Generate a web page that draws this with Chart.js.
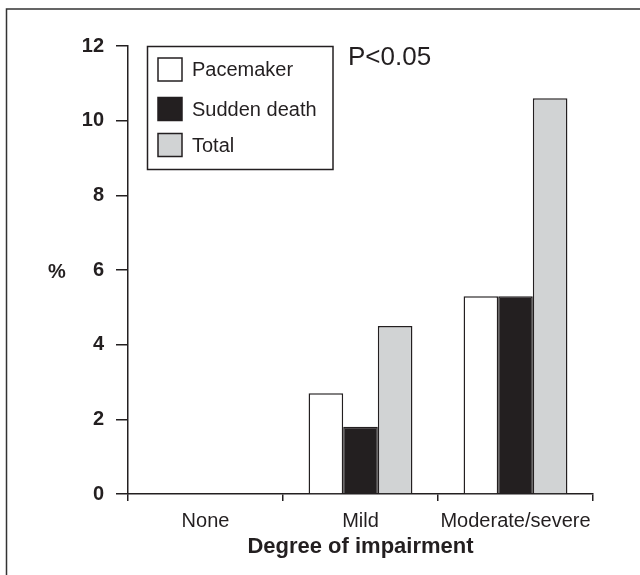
<!DOCTYPE html>
<html>
<head>
<meta charset="utf-8">
<script src="https://cdn.jsdelivr.net/npm/chart.js@4/dist/chart.umd.min.js"></script>
<style>
  html, body { margin: 0; padding: 0; background: #fff; }
  #wrap { width: 640px; height: 575px; position: relative; }
</style>
</head>
<body>
<div id="wrap"><canvas id="c" width="640" height="575"></canvas></div>
<script>
const categories = ['None', 'Mild', 'Moderate/severe'];
const seriesNames = ['Pacemaker', 'Sudden death', 'Total'];
const pacemaker = [0, 2.7, 5.3];
const suddenDeath = [0, 1.8, 5.3];
const total = [0, 4.5, 10.6];
const yTicks = [0, 2, 4, 6, 8, 10, 12];
const xTitle = 'Degree of impairment';
const yTitle = '%';
const note = 'P<0.05';

const INK = '#231f20';
const FONT = '"Liberation Sans", Arial, Helvetica, sans-serif';

const overlay = {
  id: 'overlay',
  afterDraw(chart) {
    const ctx = chart.ctx;
    ctx.save();
    // outer frame (top and left visible)
    ctx.strokeStyle = '#333';
    ctx.lineWidth = 1.5;
    ctx.beginPath();
    ctx.moveTo(6.5, 580);
    ctx.lineTo(6.5, 9);
    ctx.lineTo(645, 9);
    ctx.stroke();

    // y title, horizontal
    ctx.fillStyle = INK;
    ctx.font = 'bold 20px ' + FONT;
    ctx.textAlign = 'center';
    ctx.textBaseline = 'middle';
    ctx.fillText(yTitle, 57, 272);

    // note
    ctx.font = '26px ' + FONT;
    ctx.textAlign = 'left';
    ctx.fillText(note, 348, 58);

    // legend
    ctx.lineWidth = 1.5;
    ctx.strokeStyle = INK;
    ctx.fillStyle = '#fff';
    ctx.fillRect(147.5, 46.5, 185.5, 123);
    ctx.strokeRect(147.5, 46.5, 185.5, 123);
    const rows = [69.5, 109, 145];
    chart.data.datasets.forEach((ds, i) => {
      const cy = rows[i];
      ctx.fillStyle = ds.backgroundColor;
      ctx.fillRect(158, cy - 11.5, 24, 23);
      ctx.strokeStyle = ds.borderColor;
      ctx.lineWidth = 1.5;
      ctx.strokeRect(158, cy - 11.5, 24, 23);
      ctx.fillStyle = INK;
      ctx.font = '20px ' + FONT;
      ctx.textAlign = 'left';
      ctx.textBaseline = 'middle';
      ctx.fillText(ds.label, 192, cy + 1);
    });
    ctx.restore();
  }
};

new Chart(document.getElementById('c'), {
  type: 'bar',
  data: {
    labels: categories,
    datasets: [
      { label: seriesNames[0], data: pacemaker, backgroundColor: '#ffffff', borderColor: INK, borderWidth: 1.5 },
      { label: seriesNames[1], data: suddenDeath, backgroundColor: INK, borderColor: INK, borderWidth: 1.5 },
      { label: seriesNames[2], data: total, backgroundColor: '#d1d3d4', borderColor: INK, borderWidth: 1.5 }
    ]
  },
  options: {
    responsive: false,
    animation: false,
    layout: { padding: { left: 0, right: 47, top: 46, bottom: 0 } },
    plugins: { legend: { display: false }, tooltip: { enabled: false } },
    datasets: { bar: { categoryPercentage: 0.67, barPercentage: 1.0 } },
    scales: {
      x: {
        grid: { offset: true, drawOnChartArea: false, drawTicks: true, tickLength: 7, color: INK, lineWidth: 1.5 },
        border: { display: true, color: INK, width: 1.5 },
        ticks: { color: INK, font: { family: FONT, size: 20 }, padding: 8, maxRotation: 0 },
        title: { display: true, text: xTitle, color: INK, font: { family: FONT, size: 22, weight: 'bold' }, padding: { top: 0, bottom: 15 } },
        afterFit(scale) { scale.height = 81; }
      },
      y: {
        min: 0, max: 12,
        afterBuildTicks(scale) { scale.ticks = yTicks.map(v => ({ value: v })); },
        grid: { drawOnChartArea: false, drawTicks: true, tickLength: 12, color: INK, lineWidth: 1.5 },
        border: { display: true, color: INK, width: 1.5 },
        ticks: { color: INK, font: { family: FONT, size: 20, weight: 'bold' }, padding: 12 },
        afterFit(scale) { scale.width = 128; }
      }
    }
  },
  plugins: [overlay]
});
</script>
</body>
</html>
